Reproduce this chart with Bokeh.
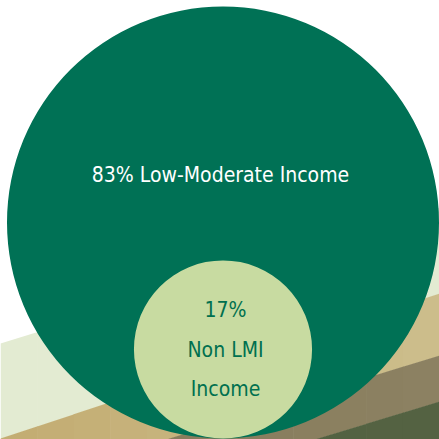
import math
from bokeh.plotting import figure
from bokeh.models import Range1d
from bokeh.core.properties import value
from bokeh.embed import file_html
from bokeh.resources import INLINE

# Data
categories = ["Low-Moderate Income", "Non LMI Income"]
shares = [83, 17]
labels_big = ["83% Low-Moderate Income"]
labels_small = ["17%", "Non LMI", "Income"]

W = H = 439
p = figure(width=W, height=H, output_backend="svg", toolbar_location=None,
           x_range=Range1d(0, W), y_range=Range1d(H, 0), min_border=0)
p.axis.visible = False
p.grid.visible = False
p.outline_line_color = None
p.background_fill_color = "white"
p.border_fill_color = "white"

# Decorative background bands: boundaries given as (y at left, y at right)
bounds = [(343, 207), (438, 293), (490, 355), (535, 401), (700, 560)]
band_left = ["#e3ebd2", "#c3ac72", "#857a59", "#506040"]
band_right = ["#e3ebd2", "#ccbe8c", "#8c8162", "#546242"]


def hex2rgb(h):
    return tuple(int(h[i:i + 2], 16) for i in (1, 3, 5))


n = 12
for i in range(4):
    (tl, tr), (bl, br) = bounds[i], bounds[i + 1]
    c0, c1 = hex2rgb(band_left[i]), hex2rgb(band_right[i])
    for k in range(n):
        x0, x1 = W * k / n, W * (k + 1) / n + 0.6
        f = (k + 0.5) / n
        col = "#%02x%02x%02x" % tuple(round(a + (b - a) * f) for a, b in zip(c0, c1))
        yt0 = tl + (tr - tl) * x0 / W
        yt1 = tl + (tr - tl) * x1 / W
        yb0 = bl + (br - bl) * x0 / W
        yb1 = bl + (br - bl) * x1 / W
        p.patch([x0, x1, x1, x0], [yt0, yt1, yb1 + 0.5, yb0 + 0.5],
                fill_color=col, line_color=None)

# Circles sized by area share
R = 216
cx, cy_big = 222.5, 222
total = sum(shares)
r_big = R * math.sqrt(shares[0] / shares[0])
r_small = R * math.sqrt(shares[1] / total)
p.circle(x=[cx], y=[cy_big], radius=r_big, fill_color="#007155", line_color=None)
cy_small = cy_big + r_big - r_small
p.circle(x=[cx], y=[cy_small], radius=r_small, fill_color="#c8dba1", line_color=None)

FONT = "DejaVu Sans Condensed"
p.text(x=[220], y=[174], text=labels_big, text_color="white",
       text_font=value(FONT), text_font_size="21px",
       text_align="center", text_baseline="middle")

ys_small = [309, 349, 388]
p.text(x=[225] * 3, y=ys_small, text=labels_small, text_color="#00704f",
       text_font=value(FONT), text_font_size="21px",
       text_align="center", text_baseline="middle")

open("out.html", "w").write(file_html(p, INLINE))
